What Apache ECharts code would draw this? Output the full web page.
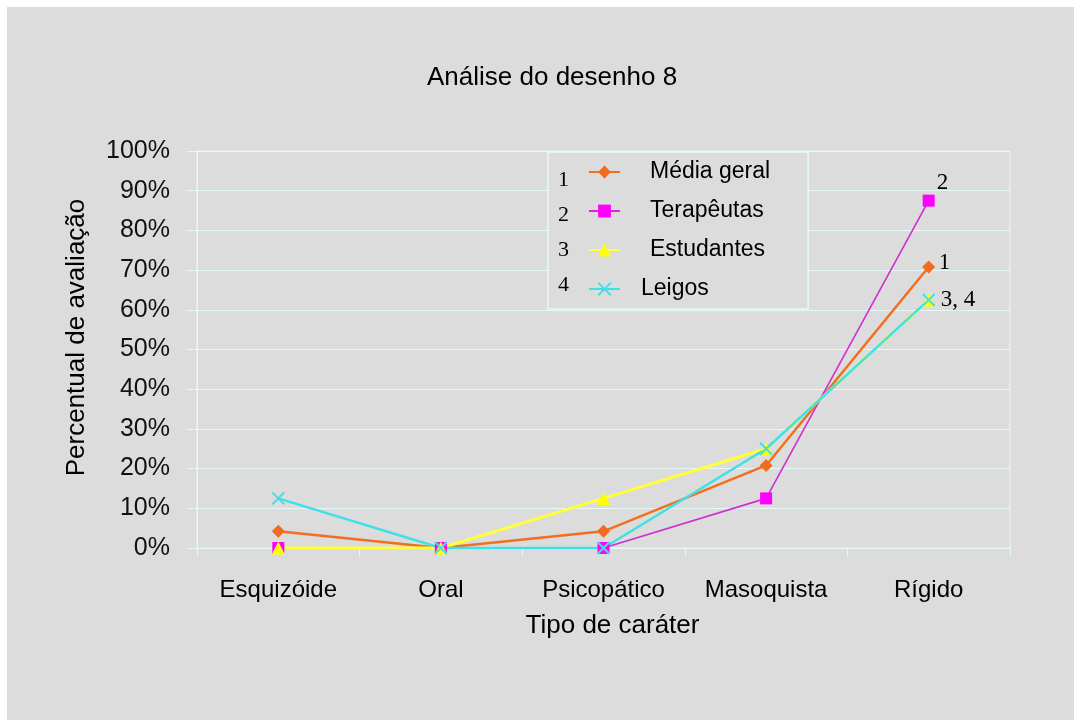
<!DOCTYPE html>
<html>
<head>
<meta charset="utf-8">
<title>Análise do desenho 8</title>
<script src="https://cdn.jsdelivr.net/npm/echarts@6/dist/echarts.min.js"></script>
<style>
  html, body { margin: 0; padding: 0; background: #fff; }
  #chart {
    position: absolute;
    left: 7px;
    top: 7px;
    width: 1067px;
    height: 713px;
    background: #dcdcdc;
  }
</style>
</head>
<body>
<div id="chart"></div>
<script>
// categories (x axis)
const categories = ['Esquizóide', 'Oral', 'Psicopático', 'Masoquista', 'Rígido']

// series values, in %
const mediaGeral = [4.2, 0, 4.2, 20.8, 70.8]
const terapeutas = [0, 0, 0, 12.5, 87.5]
const estudantes = [0, 0, 12.5, 25, 62.5]
const leigos = [12.5, 0, 0, 25, 62.5]

const seriesNames = ['Média geral', 'Terapêutas', 'Estudantes', 'Leigos']
const legendNumbers = ['1', '2', '3', '4']
const endTags = ['1', '2', '', '3, 4']

const SANS = '"Liberation Sans", Arial, sans-serif'
const SERIF = '"Liberation Serif", "Times New Roman", serif'
const GRID_COLOR = '#e6f8f8'

const chart = echarts.init(document.getElementById('chart'))

const crossPath = 'path://M0,0 L10,10 M10,0 L0,10'

const makeSeries = (name, data, opts, tag, tagOffset) => ({
  name: name,
  type: 'line',
  data: data,
  symbol: opts.symbol,
  symbolSize: opts.symbolSize,
  lineStyle: { color: opts.line, width: opts.width },
  itemStyle: {
    color: opts.marker,
    borderColor: opts.marker,
    borderWidth: opts.borderWidth || 0
  },
  emphasis: { disabled: true },
  endLabel: {
    show: !!tag,
    formatter: tag,
    offset: tagOffset,
    fontFamily: SERIF,
    fontSize: 23,
    color: '#000'
  }
})

const option = {
  animation: false,
  backgroundColor: '#dcdcdc',
  textStyle: { fontFamily: SANS },
  title: {
    text: 'Análise do desenho 8',
    left: 420,
    top: 58,
    padding: 0,
    textStyle: { fontFamily: SANS, fontSize: 26, fontWeight: 'normal', color: '#000' }
  },
  legend: {
    orient: 'vertical',
    left: 541,
    top: 145,
    padding: [7, 38, 7, 40],
    itemGap: 13,
    itemWidth: 31,
    itemHeight: 16,
    borderColor: GRID_COLOR,
    borderWidth: 1.5,
    backgroundColor: '#dcdcdc',
    selectedMode: false,
    textStyle: { fontFamily: SANS, fontSize: 23, color: '#000', lineHeight: 26 },
    data: seriesNames.map((n, i) => ({
      name: n,
      textStyle: { padding: [0, 0, 0, i === 3 ? 16 : 25] }
    }))
  },
  graphic: legendNumbers.map((t, i) => ({
    type: 'text',
    left: 551,
    top: 162 + i * 35,
    style: { text: t, font: '22px ' + SERIF, fill: '#000' },
    z: 100
  })),
  grid: {
    left: 190,
    right: 64,
    top: 144,
    bottom: 172,
    show: true,
    borderColor: GRID_COLOR,
    borderWidth: 1,
    backgroundColor: 'transparent',
    containLabel: false,
    outerBoundsMode: 'none'
  },
  xAxis: {
    type: 'category',
    data: categories,
    boundaryGap: true,
    name: 'Tipo de caráter',
    nameLocation: 'middle',
    nameGap: 65,
    nameTextStyle: { fontFamily: SANS, fontSize: 26, color: '#000', padding: [0, 0, 0, 18] },
    axisLine: { show: true, lineStyle: { color: GRID_COLOR, width: 1 } },
    axisTick: { show: true, length: 8, alignWithLabel: false, lineStyle: { color: GRID_COLOR } },
    axisLabel: { fontFamily: SANS, fontSize: 24, color: '#000', margin: 30 },
    splitLine: { show: false }
  },
  yAxis: {
    type: 'value',
    min: 0,
    max: 100,
    interval: 10,
    name: 'Percentual de avaliação',
    nameLocation: 'middle',
    nameGap: 107,
    nameRotate: 90,
    nameTextStyle: { fontFamily: SANS, fontSize: 26, color: '#000', padding: [0, 0, 0, 24] },
    axisLine: { show: true, lineStyle: { color: GRID_COLOR, width: 1 } },
    axisTick: { show: true, length: 10, lineStyle: { color: GRID_COLOR } },
    axisLabel: { fontFamily: SANS, fontSize: 25, color: '#111', margin: 27, formatter: '{value}%' },
    splitLine: { show: true, lineStyle: { color: GRID_COLOR, width: 1 } }
  },
  series: [
    makeSeries(seriesNames[0], mediaGeral,
      { symbol: 'diamond', symbolSize: 13, line: '#f0701f', marker: '#f26a1b', width: 2.5 },
      endTags[0], [2, -4]),
    makeSeries(seriesNames[1], terapeutas,
      { symbol: 'rect', symbolSize: 12, line: '#d02ed2', marker: '#ff00ff', width: 1.6 },
      endTags[1], [0, -18]),
    makeSeries(seriesNames[2], estudantes,
      { symbol: 'triangle', symbolSize: 13, line: '#ffff3a', marker: '#ffff00', width: 3 },
      endTags[2], [0, 0]),
    makeSeries(seriesNames[3], leigos,
      { symbol: crossPath, symbolSize: 12, line: '#3fe0e6', marker: '#3fe0e6', width: 2.5, borderWidth: 2 },
      endTags[3], [4, 0])
  ]
}

chart.setOption(option)
</script>
</body>
</html>
